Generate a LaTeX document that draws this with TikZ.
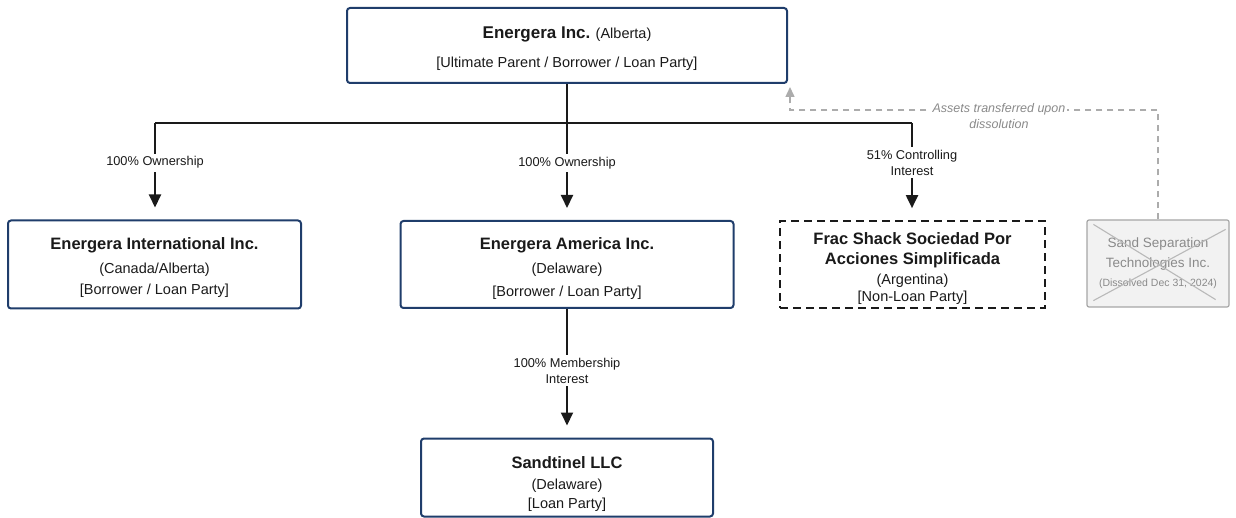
\documentclass[tikz,border=0pt]{standalone}
\usepackage{fontspec}
\setmainfont{Liberation Sans}
\usetikzlibrary{arrows.meta,calc}
\definecolor{boxblue}{HTML}{1F3D6B}
\definecolor{ink}{HTML}{1A1A1A}
\definecolor{ghost}{HTML}{8A8A8A}
\newcommand{\boxtitle}{\bfseries\fontsize{16.5}{20}\selectfont}
\newcommand{\boxsub}{\fontsize{14.5}{20}\selectfont}
\newcommand{\lift}[1]{\rule{0pt}{#1}}
\begin{document}
\begin{tikzpicture}[x=1pt,y=-1pt,
  ebox/.style={draw=boxblue,line width=2pt,rounded corners=3pt,fill=white,align=center,text=ink,font=\boxsub},
  dbox/.style={draw=ink,line width=2pt,dash pattern=on 8pt off 5pt,fill=white,align=center,text=ink,font=\boxsub},
  gbox/.style={draw=gray!70,line width=1.2pt,rounded corners=2pt,fill=gray!10,align=center,text=ghost},
  conn/.style={draw=ink,line width=2pt},
  arr/.style={conn,-{Triangle[length=13pt,width=12pt]},shorten >=12pt},
  lbl/.style={fill=white,text=ink,font=\fontsize{12.8}{15.5}\selectfont,align=center,inner sep=3pt},
  gdash/.style={draw=gray!65,line width=1.4pt,dash pattern=on 6pt off 5pt},
]
\useasboundingbox (0,0) rectangle (1236,518);

% boxes
\node[ebox,minimum width=440pt,minimum height=75pt] (top) at (567,45.5)
  {\lift{19pt}{\boxtitle\fontsize{17}{20}\selectfont Energera Inc.} (Alberta)\\[9pt] {[Ultimate Parent / Borrower / Loan Party]}};
\node[ebox,minimum width=293pt,minimum height=88pt] (intl) at (154.5,264.5)
  {\lift{18pt}{\boxtitle Energera International Inc.}\\[4pt](Canada/Alberta)\\[1pt]{[Borrower / Loan Party]}};
\node[ebox,minimum width=333pt,minimum height=87pt] (amer) at (567,264.5)
  {\lift{20pt}{\boxtitle Energera America Inc.}\\[4pt](Delaware)\\[3pt]{[Borrower / Loan Party]}};
\node[dbox,minimum width=265pt,minimum height=86pt] (frac) at (912.5,264.5)
  {\lift{20pt}{\boxtitle Frac Shack Sociedad Por}\\{\boxtitle Acciones Simplificada}\\(Argentina)\\[-3pt]{[Non-Loan Party]}};
\node[gbox,minimum width=142pt,minimum height=87pt,font=\fontsize{13.5}{20}\selectfont] (ss) at (1158,263.5)
  {Sand Separation\\Technologies Inc.\\[-1pt]{\fontsize{10.5}{12}\selectfont (Dissolved Dec 31, 2024)}};
\draw[gray!55,line width=1.1pt] ($(ss.north west)+(7,5)$) -- ($(ss.south east)+(-14,-8)$);
\draw[gray!55,line width=1.1pt] ($(ss.south west)+(7,-7)$) -- ($(ss.north east)+(-4,10)$);
\node[ebox,minimum width=292pt,minimum height=78pt] (sand) at (567,477.5)
  {\lift{25pt}{\boxtitle Sandtinel LLC}\\[1pt](Delaware)\\[-1pt]{[Loan Party]}};

% ownership tree
\coordinate (busL) at (155,123);
\coordinate (busM) at (567,123);
\coordinate (busR) at (912,123);
\draw[conn] (top.south) -- (busM);
\draw[conn] (busL) -- (busR);
\draw[arr] (busL) -- node[lbl,pos=0.41]{100\% Ownership} (busL |- intl.north);
\draw[arr] (busM) -- node[lbl,pos=0.41]{100\% Ownership} (busM |- amer.north);
\draw[arr] (busR) -- node[lbl,pos=0.41]{51\% Controlling\\Interest} (busR |- frac.north);
\draw[arr] (amer.south) -- node[lbl,pos=0.48]{100\% Membership\\Interest} (sand.north);

% asset transfer
\coordinate (tc) at (790,110);
\draw[gdash,-{Triangle[length=10pt,width=9pt]},shorten >=3pt] (ss.north) |- (tc) -- (tc |- top.south);
\node[fill=white,text=ghost,font=\itshape\fontsize{12.5}{16}\selectfont,align=center,inner sep=2pt] (asset) at (999,116)
  {Assets transferred upon\\dissolution};
\end{tikzpicture}
\end{document}
